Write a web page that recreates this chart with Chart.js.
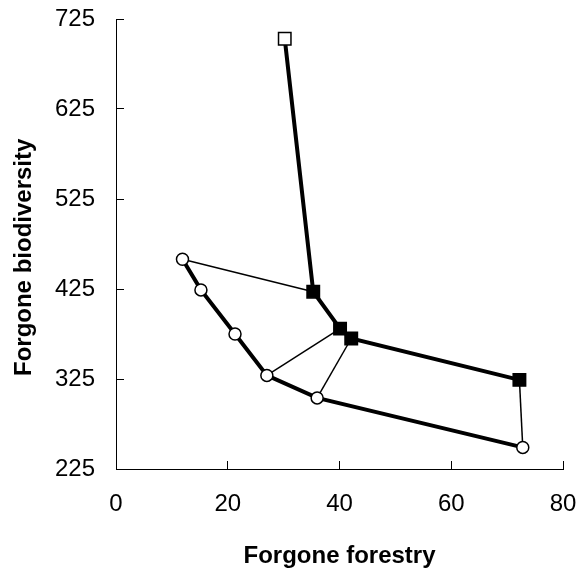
<!DOCTYPE html>
<html>
<head>
<meta charset="utf-8">
<script src="https://cdn.jsdelivr.net/npm/chart.js@4"></script>
<style>
  html, body { margin: 0; padding: 0; background: #fff; }
</style>
</head>
<body>
<canvas id="grafico" width="579" height="575"></canvas>
<script>
// thick line with squares (first point is the open square)
const squareX = [30.2, 35.3, 40.1, 42.1, 72.2];
const squareY = [703, 422, 381, 370, 324];
// thick line with open circles
const circleX = [11.9, 15.2, 21.3, 27.0, 36.0, 72.8];
const circleY = [458, 424, 375, 329, 304, 249];
// thin links: [circle index, square index]
const links = [[0, 1], [3, 2], [4, 3], [5, 4]];

const xTicks = [0, 20, 40, 60, 80];
const yTicks = [225, 325, 425, 525, 625, 725];

const fuente = "'Liberation Sans', Arial, sans-serif";

function puntos(xs, ys) {
    return xs.map((x, i) => ({ x: x, y: ys[i] }));
}

// no extra label padding around the plot, layout.padding decides it
function sinPadding(s) {
    s.paddingTop = 0;
    s.paddingBottom = 0;
    s.paddingLeft = 0;
    s.paddingRight = 0;
}

const datasets = [
    {
        data: puntos(squareX, squareY),
        borderColor: '#000',
        borderWidth: 4,
        pointStyle: 'rect',
        pointRadius: 8.8,
        pointBorderWidth: 1.5,
        pointBorderColor: '#000',
        pointBackgroundColor: squareX.map((v, i) => i === 0 ? '#fff' : '#000'),
        order: 1
    },
    {
        data: puntos(circleX, circleY),
        borderColor: '#000',
        borderWidth: 4,
        pointStyle: 'circle',
        pointRadius: 6,
        pointBorderWidth: 1.5,
        pointBorderColor: '#000',
        pointBackgroundColor: '#fff',
        order: 2
    }
];

links.forEach(par => {
    datasets.push({
        data: [
            { x: circleX[par[0]], y: circleY[par[0]] },
            { x: squareX[par[1]], y: squareY[par[1]] }
        ],
        borderColor: '#000',
        borderWidth: 1.5,
        pointRadius: 0,
        order: 5
    });
});

new Chart(document.getElementById('grafico').getContext('2d'), {
    type: 'line',
    data: { datasets: datasets },
    options: {
        responsive: false,
        animation: false,
        events: [],
        layout: { padding: { left: 0, right: 16, top: 19, bottom: 0 } },
        plugins: { legend: { display: false }, tooltip: { enabled: false } },
        scales: {
            x: {
                type: 'linear',
                min: 0,
                max: 80,
                afterBuildTicks: s => { s.ticks = xTicks.map(v => ({ value: v })); },
                afterFit: s => { s.height = 106; sinPadding(s); },
                grid: { drawOnChartArea: false, drawTicks: true, tickLength: -8, color: '#000', lineWidth: 1 },
                border: { display: true, color: '#000', width: 1 },
                ticks: { color: '#000', padding: 29, maxRotation: 0, font: { family: fuente, size: 24 } },
                title: {
                    display: true,
                    text: 'Forgone forestry',
                    color: '#000',
                    padding: { top: 0, bottom: 4 },
                    font: { family: fuente, size: 24, weight: 'bold' }
                }
            },
            y: {
                type: 'linear',
                min: 225,
                max: 725,
                afterBuildTicks: s => { s.ticks = yTicks.map(v => ({ value: v })); },
                afterFit: s => { s.width = 116; sinPadding(s); },
                grid: { drawOnChartArea: false, drawTicks: true, tickLength: -8, color: '#000', lineWidth: 1 },
                border: { display: true, color: '#000', width: 1 },
                ticks: { color: '#000', padding: 29, font: { family: fuente, size: 24 } },
                title: {
                    display: true,
                    text: 'Forgone biodiversity    ',
                    color: '#000',
                    padding: { top: 10, bottom: 0 },
                    font: { family: fuente, size: 24, weight: 'bold' }
                }
            }
        }
    }
});
</script>
</body>
</html>
